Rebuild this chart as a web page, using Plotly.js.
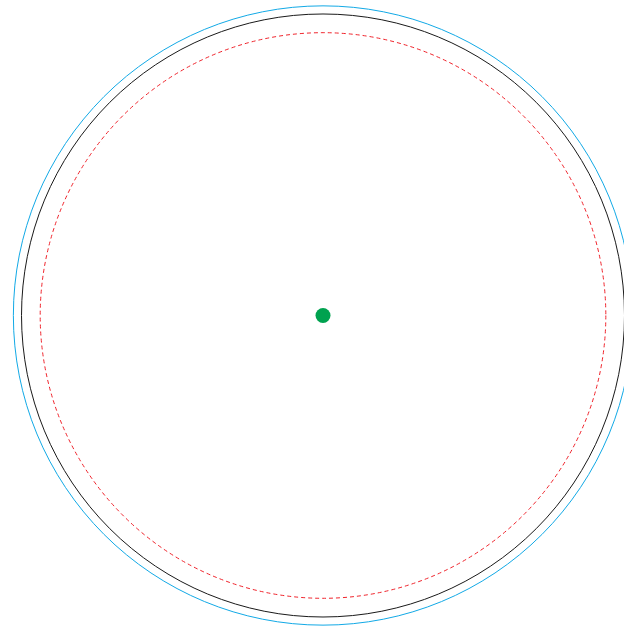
<!DOCTYPE html>
<html>
<head>
<meta charset="utf-8">
<script src="https://cdn.plot.ly/plotly-3.0.1.min.js"></script>
<style>html,body{margin:0;padding:0;background:#fff;}#chart{width:624px;height:628px;}</style>
</head>
<body>
<div id="chart"></div>
<script>
// Data
const circleNames = ["outer", "unit", "inner"];
const circleRadii = [1.027, 1.0, 0.938];
const centerX = [0];
const centerY = [0];

// Styles
const circleStyles = {
  outer: {color: "#12a9e6", width: 1, dash: "solid"},
  unit:  {color: "#1a1a1a", width: 1, dash: "solid"},
  inner: {color: "#f0232b", width: 1, dash: "4px,3px"}
};

const shapes = circleNames.map((n, i) => ({
  type: "circle", xref: "x", yref: "y",
  x0: centerX[0] - circleRadii[i], x1: centerX[0] + circleRadii[i],
  y0: centerY[0] - circleRadii[i], y1: centerY[0] + circleRadii[i],
  line: circleStyles[n], fillcolor: "rgba(0,0,0,0)"
}));

const trace = {
  x: centerX, y: centerY, type: "scatter", mode: "markers",
  marker: {size: 15, color: "#00a24f"}, hoverinfo: "skip"
};

const axis = {visible: false, showgrid: false, zeroline: false, fixedrange: true};
const layout = {
  width: 624, height: 628,
  margin: {l: 0, r: 0, t: 0, b: 0, pad: 0},
  paper_bgcolor: "#fff", plot_bgcolor: "#fff",
  showlegend: false,
  xaxis: Object.assign({range: [-1.0713, 0.9983]}, axis),
  yaxis: Object.assign({range: [-1.0365, 1.0464]}, axis),
  shapes: shapes
};

Plotly.newPlot("chart", [trace], layout, {staticPlot: true, displayModeBar: false});
</script>
</body>
</html>
